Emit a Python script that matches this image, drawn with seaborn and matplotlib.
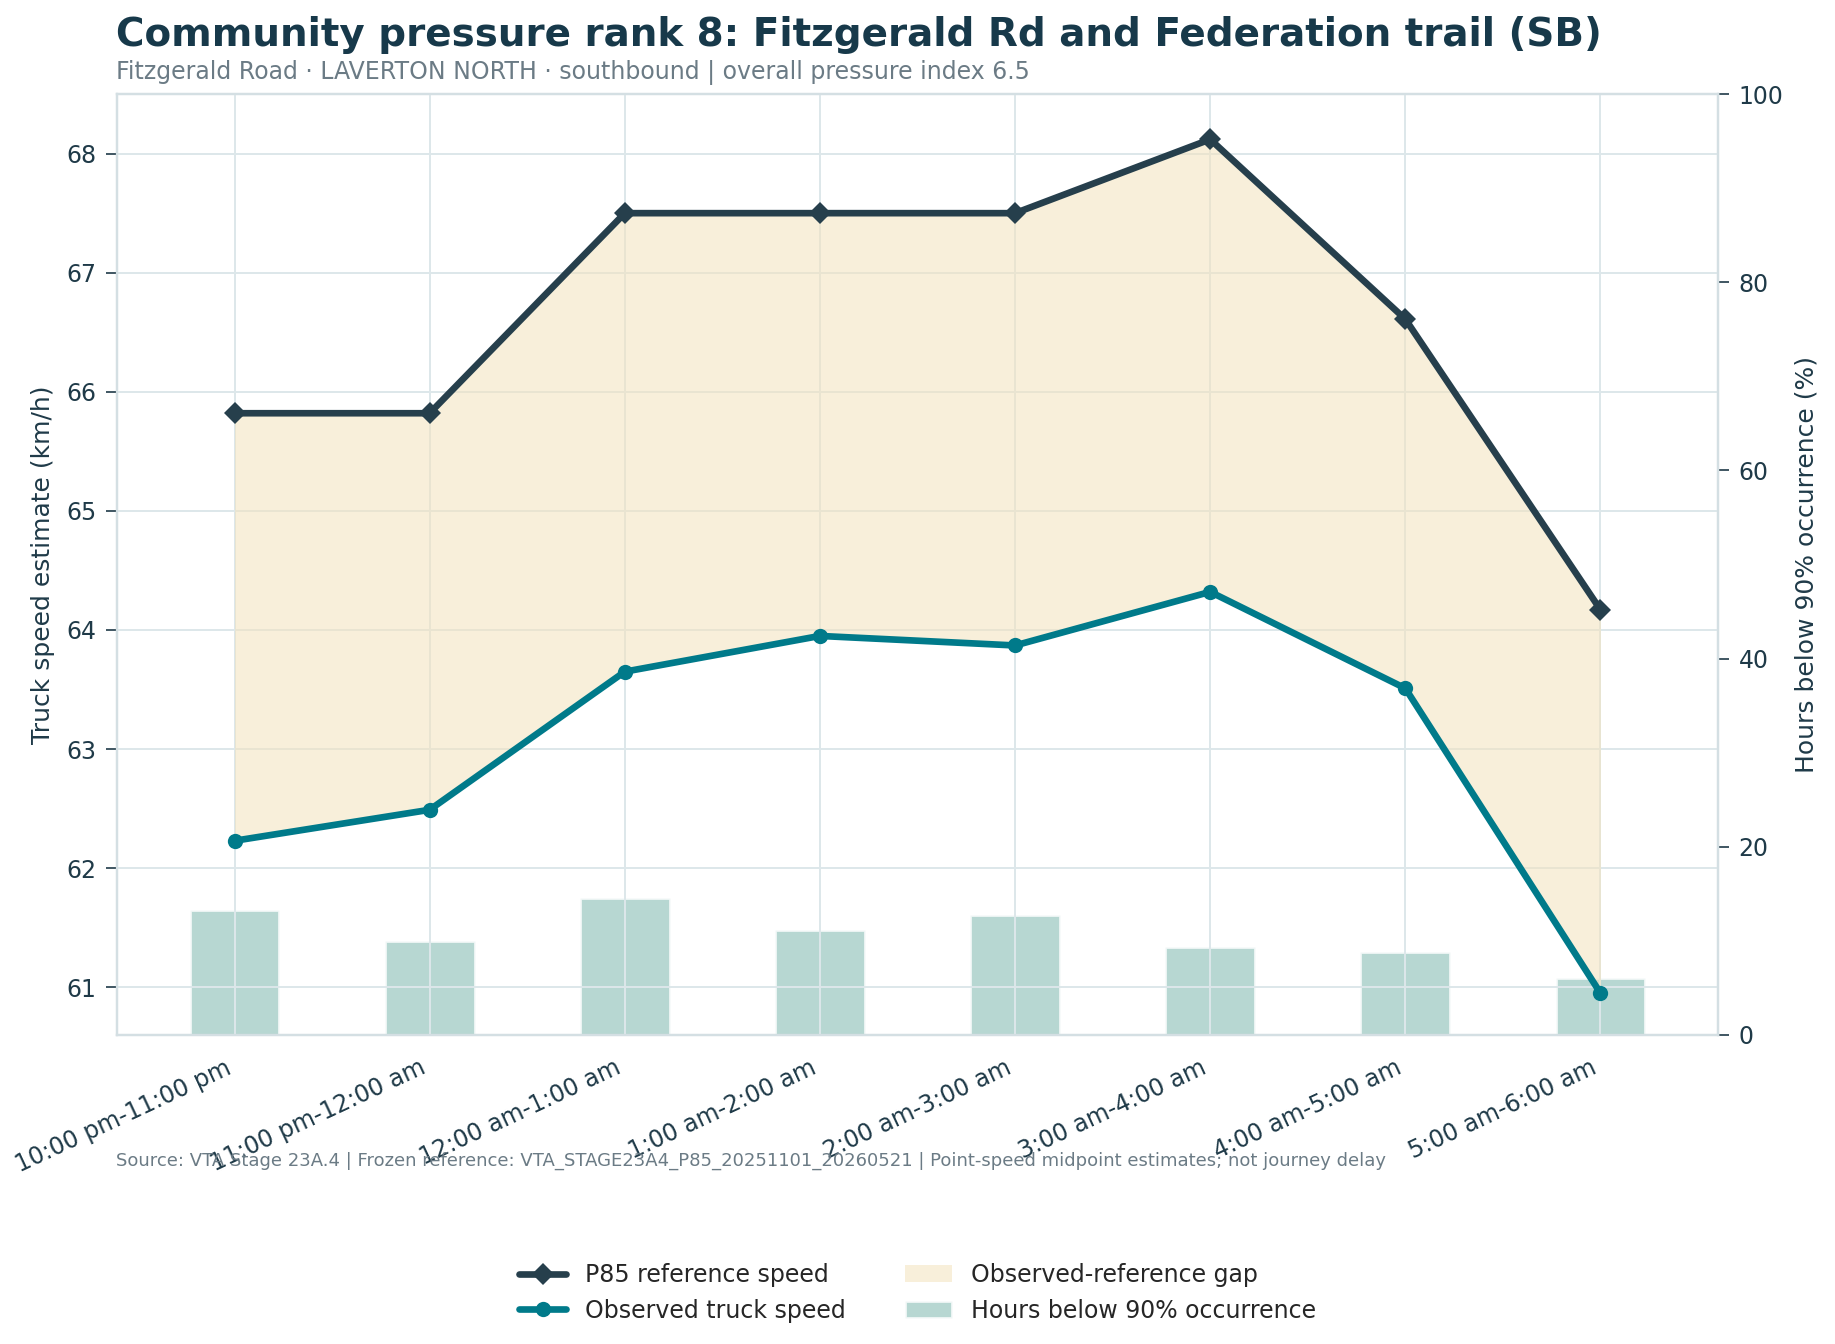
import matplotlib
matplotlib.use("Agg")
import matplotlib.pyplot as plt
import seaborn as sns
import pandas as pd
import numpy as np

sns.set_theme(style="whitegrid")
plt.rcParams['font.family'] = ['DejaVu Sans']

periods = ["10:00 pm-11:00 pm", "11:00 pm-12:00 am", "12:00 am-1:00 am", "1:00 am-2:00 am",
           "2:00 am-3:00 am", "3:00 am-4:00 am", "4:00 am-5:00 am", "5:00 am-6:00 am"]
p85_speed = [65.82, 65.82, 67.50, 67.50, 67.50, 68.12, 66.61, 64.17]
observed_speed = [62.23, 62.49, 63.65, 63.95, 63.87, 64.32, 63.51, 60.95]
hours_below_pct = [13.3, 10.0, 14.5, 11.1, 12.7, 9.3, 8.8, 6.0]

df = pd.DataFrame({"period": periods, "p85": p85_speed, "obs": observed_speed, "pct": hours_below_pct})
x = np.arange(len(periods))

fig, ax = plt.subplots(figsize=(9.175, 6.72), dpi=200)
fig.subplots_adjust(left=0.064, right=0.936, top=0.93, bottom=0.23)
ax2 = ax.twinx()
ax.set_zorder(ax2.get_zorder() + 1)
ax.patch.set_visible(False)

sns.barplot(data=df, x="period", y="pct", ax=ax2, color="#9fd3cb", alpha=0.8, width=0.46,
            label="Hours below 90% occurrence")
ax2.set_ylim(0, 100)
ax2.grid(False)
ax2.set_ylabel("Hours below 90% occurrence (%)", color="#1f3a48", fontsize=9)

ax.fill_between(x, df["obs"], df["p85"], color="#f3e3bd", alpha=0.55, label="Observed-reference gap", linewidth=0)
sns.lineplot(x=x, y=df["p85"], ax=ax, color="#263f4c", lw=2.4, marker="D", markersize=5.5,
             markeredgewidth=0, label="P85 reference speed")
sns.lineplot(x=x, y=df["obs"], ax=ax, color="#007a8a", lw=2.4, marker="o", markersize=5.5,
             markeredgewidth=0, label="Observed truck speed")
ax.set_ylim(60.6, 68.5)
ax.set_xlim(-0.6, 7.6)
ax.set_xticks(x)
ax.set_xticklabels(periods, rotation=25, ha="right", fontsize=8.5, color="#1f3a48")
ax.set_ylabel("Truck speed estimate (km/h)", color="#1f3a48", fontsize=9)
ax.set_xlabel("")
for a in (ax, ax2):
    a.tick_params(colors="#1f3a48", labelsize=8.5, length=4, color="#1f3a48", width=0.6)
    for s in a.spines.values():
        s.set_color("#d4dfe3")
        s.set_linewidth(0.8)
ax.grid(True, color="#dde7ea", lw=0.7)
if ax.legend_:
    ax.legend_.remove()
if ax2.legend_:
    ax2.legend_.remove()

h1, l1 = ax.get_legend_handles_labels()
h2, l2 = ax2.get_legend_handles_labels()
hd = dict(zip(l1 + l2, h1 + h2))
order = ["P85 reference speed", "Observed truck speed", "Observed-reference gap", "Hours below 90% occurrence"]
fig.legend([hd[k] for k in order], order, loc="lower center", ncol=2, frameon=False,
           fontsize=8.5, bbox_to_anchor=(0.5, 0.0), columnspacing=2.5)

fig.text(0.063, 0.988, "Community pressure rank 8: Fitzgerald Rd and Federation trail (SB)",
         fontsize=14, fontweight="bold", color="#17394a", va="top")
fig.text(0.063, 0.955, "Fitzgerald Road · LAVERTON NORTH · southbound | overall pressure index 6.5",
         fontsize=8.5, color="#6b7b85", va="top")
fig.text(0.063, 0.133, "Source: VTA Stage 23A.4 | Frozen reference: VTA_STAGE23A4_P85_20251101_20260521 | Point-speed midpoint estimates; not journey delay",
         fontsize=6.5, color="#6b7b85")
fig.savefig("out.png", dpi=200)
